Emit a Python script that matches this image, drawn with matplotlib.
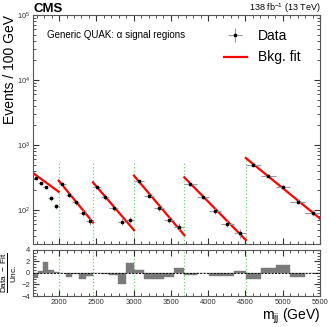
import numpy as np
import matplotlib
matplotlib.use('Agg')
import matplotlib.pyplot as plt
from matplotlib.ticker import MultipleLocator, LogLocator, NullFormatter

plt.rcParams['font.family'] = ['Liberation Sans', 'DejaVu Sans']
plt.rcParams['mathtext.fontset'] = 'custom'
plt.rcParams['mathtext.rm'] = 'Liberation Sans'
plt.rcParams['mathtext.it'] = 'Liberation Sans:italic'
plt.rcParams['mathtext.bf'] = 'Liberation Sans:bold'

# signal region boundaries in mjj (GeV), 5 bins each
region_edges = [1650, 1995, 2455, 3005, 3680, 4505, 5500]
nbins = 5

# events / 100 GeV per bin
data = [
    [311, 256, 223, 151, 115],
    [251, 170, 131, 90, 68],
    [228, 156, 107, 66, 71],
    [276, 164, 106, 71, 55],
    [251, 160, 97.5, 62, 43.6],
    [495, 337, 228, 134, 90],
]
# fit value at start / end of every region
fit_start = [371, 283, 266, 337, 318, 631]
fit_end = [191, 64.5, 49, 41, 34.6, 74]
# (data - fit) / unc per bin
pulls = [
    [-0.9, 0.35, 1.9, 0.55, 0.15],
    [0.05, -0.7, -0.2, -1.0, -0.6],
    [0.05, -0.1, -0.35, -1.9, 1.7],
    [0.6, -1.1, -1.1, -0.7, 0.8],
    [-0.3, 0.0, -0.5, -0.6, 0.4],
    [-1.1, 0.8, 1.4, -0.7, 0.0],
]
boundary_tops = [520, 520, 520, 520, 640]

fig = plt.figure(figsize=(3.32, 3.27), dpi=100)
ax = fig.add_axes([0.0994, 0.2538, 0.8645, 0.7003])
rax = fig.add_axes([0.0994, 0.0948, 0.8645, 0.1407], sharex=ax)

green = '#6fd66f'
h_data = h_fit = None
for i in range(len(data)):
    lo, hi = region_edges[i], region_edges[i + 1]
    edges = np.linspace(lo, hi, nbins + 1)
    centers = 0.5 * (edges[1:] + edges[:-1])
    half = 0.5 * (edges[1] - edges[0])
    vals = np.array(data[i])
    h_fit, = ax.plot([lo, hi], [fit_start[i], fit_end[i]], color='red', lw=1.6, zorder=2)
    h_data = ax.errorbar(centers, vals, xerr=half, yerr=np.sqrt(vals), fmt='s', ms=1.6,
                         color='black', ecolor='#999999', elinewidth=0.8, capsize=0, zorder=3)
    rax.bar(edges[:-1], pulls[i], width=edges[1] - edges[0], align='edge',
            color='#7a7a7a', edgecolor='#7a7a7a', lw=0.3, zorder=2)

for b, top in zip(region_edges[1:-1], boundary_tops):
    ax.plot([b, b], [30, top], color=green, ls=':', lw=0.9, zorder=1)
    rax.axvline(b, color=green, ls=':', lw=0.9, zorder=1)

rax.axhline(0, color='black', ls=(0, (2, 1.5)), lw=0.7, zorder=3)

ax.set_yscale('log')
ax.set_ylim(30, 1e5)
ax.set_xlim(1650, 5500)
rax.set_ylim(-4, 4)

ax.yaxis.set_major_locator(LogLocator(base=10, numticks=10))
ax.yaxis.set_minor_locator(LogLocator(base=10, subs=np.arange(2, 10), numticks=20))
ax.yaxis.set_minor_formatter(NullFormatter())
ax.xaxis.set_major_locator(MultipleLocator(500))
ax.xaxis.set_minor_locator(MultipleLocator(100))
rax.yaxis.set_major_locator(MultipleLocator(2))
rax.yaxis.set_minor_locator(MultipleLocator(0.5))
plt.setp(ax.get_xticklabels(), visible=False)

for a in (ax, rax):
    a.tick_params(which='both', direction='in', top=True, right=True,
                  labelsize=5.5, colors='#333333', pad=2)
    a.tick_params(which='major', length=4)
    a.tick_params(which='minor', length=2)
    for s in a.spines.values():
        s.set_color('#555555')
        s.set_linewidth(0.8)

ax.text(0.049, 0.913, 'Generic QUAK: \u03b1 signal regions', transform=ax.transAxes,
        fontsize=7, va='center', ha='left')
ax.legend([h_data, h_fit], ['Data', 'Bkg. fit'], loc='upper left',
          bbox_to_anchor=(0.665, 0.94), frameon=False,
          fontsize=10, handlelength=1.65, handletextpad=0.8, labelspacing=0.55,
          borderpad=0, borderaxespad=0)

fig.text(0.0994, 1 - 12 / 327, 'CMS', fontsize=9.5, weight='bold', ha='left', va='baseline')
fig.text(0.9639, 1 - 11 / 327, r'138 fb$^{-1}$ (13 TeV)', fontsize=6.5, ha='right', va='baseline')
fig.text(10 / 332, 1 - 15 / 327, 'Events / 100 GeV', rotation=90, fontsize=10,
         ha='center', va='top')
fig.text(0.9639, 1 - 320 / 327, r'm$_{\mathregular{jj}}$ (GeV)', fontsize=10,
         ha='right', va='baseline')
fig.text(9 / 332, 1 - 273 / 327, r'$\frac{\mathrm{Data\ -\ Fit}}{\mathrm{Unc.}}$',
         rotation=90, fontsize=8.5, ha='center', va='center')

fig.savefig('out.png', dpi=100)
